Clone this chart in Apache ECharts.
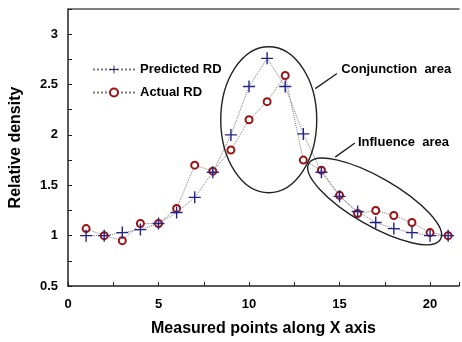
<!DOCTYPE html>
<html>
<head>
<meta charset="utf-8">
<script src="https://cdn.jsdelivr.net/npm/echarts@6/dist/echarts.min.js"></script>
<style>
  html, body { margin: 0; padding: 0; background: #fff; }
  #main { width: 462px; height: 342px; }
</style>
</head>
<body>
<div id="main"></div>
<script>
// measured points along X axis
const pointIdx = [1, 2, 3, 4, 5, 6, 7, 8, 9, 10, 11, 12, 13, 14, 15, 16, 17, 18, 19, 20, 21];
const predictedRD = [1.00, 1.00, 1.03, 1.06, 1.12, 1.23, 1.38, 1.63, 2.00, 2.48, 2.76, 2.48, 2.01, 1.63, 1.39, 1.24, 1.13, 1.07, 1.03, 1.00, 1.00];
const actualRD = [1.07, 1.00, 0.95, 1.12, 1.12, 1.27, 1.70, 1.64, 1.85, 2.15, 2.33, 2.59, 1.75, 1.65, 1.40, 1.22, 1.25, 1.20, 1.13, 1.03, 1.00];
const xTickLabels = [0, 5, 10, 15, 20];
const yTickLabels = [0.5, 1, 1.5, 2, 2.5, 3];

// annotation placement (data coords for anchors)
const annotations = [
  { text: 'Conjunction  area', at: [15.1, 2.65], lineFrom: [13.66, 2.46], lineTo: [14.86, 2.61],
    ellipse: { center: [11.09, 2.15], rx: 48, ry: 73, rot: 0 } },
  { text: 'Influence  area', at: [16.02, 1.93], lineFrom: [14.76, 1.78], lineTo: [15.85, 1.92],
    ellipse: { center: [16.94, 1.34], rx: 76, ry: 24, rot: 30 } }
];

const font = 'Liberation Sans, Arial, sans-serif';
const cross = 'path://M0,5.3H12V6.7H0Z M5.3,0H6.7V12H5.3Z';

let chart = echarts.init(document.getElementById('main'));

const option = {
  animation: false,
  textStyle: { fontFamily: font },
  grid: { left: 67, right: 0, top: 9, bottom: 56 },
  legend: {
    left: 87, top: 58, orient: 'vertical',
    itemWidth: 42, itemHeight: 10, itemGap: 10,
    textStyle: { fontFamily: font, fontWeight: 'bold', fontSize: 13, color: '#000' },
    data: ['Predicted RD', 'Actual RD']
  },
  xAxis: [{
    type: 'value', min: 0, max: 21.6, interval: 2.5,
    name: 'Measured points along X axis', nameLocation: 'middle', nameGap: 35,
    nameTextStyle: { fontFamily: font, fontWeight: 'bold', fontSize: 16, color: '#000' },
    axisLine: { lineStyle: { color: '#222', width: 1.5 } },
    axisTick: { inside: true, length: 4, lineStyle: { color: '#222' } },
    axisLabel: {
      fontFamily: font, fontWeight: 'bold', fontSize: 13, color: '#000', margin: 12,
      formatter: v => xTickLabels.indexOf(v) >= 0 ? String(v) : ''
    },
    splitLine: { show: false }
  }, {
    type: 'value', position: 'top', min: 0, max: 21.6,
    axisLine: { show: true, lineStyle: { color: '#555', width: 1.5 } },
    axisTick: { show: false }, axisLabel: { show: false }, splitLine: { show: false }
  }],
  yAxis: {
    type: 'value', min: 0.5, max: 3.25, interval: 0.25,
    name: 'Relative density', nameLocation: 'middle', nameGap: 44,
    nameTextStyle: { fontFamily: font, fontWeight: 'bold', fontSize: 16, color: '#000' },
    axisLine: { show: true, lineStyle: { color: '#222', width: 1.5 } },
    axisTick: { show: true, inside: true, length: 4, lineStyle: { color: '#222' } },
    axisLabel: {
      fontFamily: font, fontWeight: 'bold', fontSize: 13, color: '#000', margin: 10,
      formatter: v => yTickLabels.indexOf(Math.round(v * 100) / 100) >= 0 ? String(v) : ''
    },
    splitLine: { show: false }
  },
  series: [{
    name: 'Predicted RD', type: 'line',
    data: pointIdx.map((x, i) => [x, predictedRD[i]]),
    symbol: cross, symbolSize: 12,
    itemStyle: { color: '#23238a' },
    lineStyle: { color: '#777788', width: 1, type: 'dotted' },
    z: 3
  }, {
    name: 'Actual RD', type: 'line',
    data: pointIdx.map((x, i) => [x, actualRD[i]]),
    symbol: 'emptyCircle', symbolSize: 7,
    itemStyle: { color: '#9a1414', borderWidth: 1.6 },
    lineStyle: { color: '#887777', width: 1, type: 'dotted' },
    z: 2
  }]
};

chart.setOption(option);

function drawNotes() {
  const px = p => chart.convertToPixel({ gridIndex: 0 }, p);
  const g = [];
  annotations.forEach(a => {
    const c = px(a.ellipse.center);
    g.push({
      type: 'ellipse', x: c[0], y: c[1], rotation: -a.ellipse.rot * Math.PI / 180,
      shape: { cx: 0, cy: 0, rx: a.ellipse.rx, ry: a.ellipse.ry },
      style: { fill: 'none', stroke: '#222', lineWidth: 1.4 }, z: 10
    });
    const p1 = px(a.lineFrom), p2 = px(a.lineTo);
    g.push({
      type: 'line', shape: { x1: p1[0], y1: p1[1], x2: p2[0], y2: p2[1] },
      style: { stroke: '#222', lineWidth: 1.4 }, z: 10
    });
    const t = px(a.at);
    g.push({
      type: 'text', x: t[0], y: t[1],
      style: { text: a.text, fill: '#000', font: 'bold 13px ' + font, verticalAlign: 'middle', align: 'left' },
      z: 10
    });
  });
  chart.setOption({ graphic: g });
}
drawNotes();
</script>
</body>
</html>
